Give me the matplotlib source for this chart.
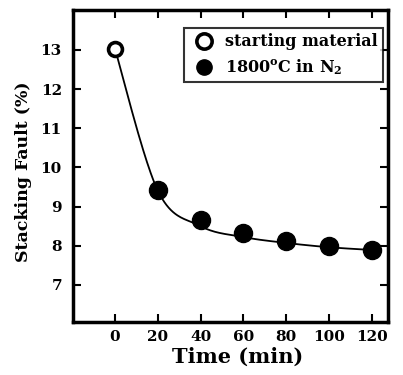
import matplotlib
matplotlib.use("Agg")
import matplotlib.pyplot as plt
import numpy as np

# data
start_time = [0]
start_fault = [13.03]
time_min = [20, 40, 60, 80, 100, 120]
fault_pct = [9.41, 8.66, 8.33, 8.12, 7.98, 7.89]

# guide curve drawn in the reference (passes a little below some points)
fit_time = [0, 20, 40, 60, 80, 100, 120]
fit_value = [13.03, 9.41, 8.50, 8.22, 8.07, 7.96, 7.89]

x_ticks = [0, 20, 40, 60, 80, 100, 120]
y_ticks = [7, 8, 9, 10, 11, 12, 13]

XLIM = (-19.6, 127.6)
YLIM = (6.05, 14.02)


def smooth_curve(t, y, n=40):
    # spreadsheet-style smoothed line: Catmull-Rom Bezier in axes pixel space
    px = (t - XLIM[0]) / (XLIM[1] - XLIM[0]) * 315
    py = (y - YLIM[0]) / (YLIM[1] - YLIM[0]) * 312
    P = np.column_stack([px, py])
    Pe = np.vstack([P[0], P, P[-1]])
    s = np.linspace(0, 1, n)[:, None]
    out = []
    for i in range(len(P) - 1):
        p0, p3 = Pe[i + 1], Pe[i + 2]
        c1 = p0 + (Pe[i + 2] - Pe[i]) / 6
        c2 = p3 - (Pe[i + 3] - Pe[i + 1]) / 6
        out.append((1 - s) ** 3 * p0 + 3 * (1 - s) ** 2 * s * c1
                   + 3 * (1 - s) * s ** 2 * c2 + s ** 3 * p3)
    out = np.vstack(out)
    tx = out[:, 0] / 315 * (XLIM[1] - XLIM[0]) + XLIM[0]
    ty = out[:, 1] / 312 * (YLIM[1] - YLIM[0]) + YLIM[0]
    return tx, ty


def main() -> None:
    plt.rcParams["font.family"] = ["DejaVu Serif"]
    plt.rcParams["font.weight"] = "bold"
    plt.rcParams["mathtext.fontset"] = "custom"
    plt.rcParams["mathtext.rm"] = "DejaVu Serif:bold"
    plt.rcParams["mathtext.bf"] = "DejaVu Serif:bold"

    tt, yy = smooth_curve(np.array(fit_time, float), np.array(fit_value, float))

    fig = plt.figure(figsize=(4.03, 3.75), dpi=100)
    ax = fig.add_axes([73 / 403, 53 / 375, 315 / 403, 312 / 375])

    ax.plot(tt, yy, color="black", lw=1.3, zorder=1)
    ax.plot(time_min, fault_pct, "o", ms=13, color="black", zorder=3,
            label=r"1800$^{\mathbf{o}}$C in N$_{\mathbf{2}}$")
    ax.plot(start_time, start_fault, "o", ms=10, mfc="white", mec="black",
            mew=2.6, zorder=3, label="starting material")

    ax.set_xlim(*XLIM)
    ax.set_ylim(*YLIM)
    ax.set_xticks(x_ticks)
    ax.set_yticks(y_ticks)
    ax.tick_params(direction="in", top=True, right=True, length=6, width=1.5,
                   labelsize=11, pad=8)
    ax.tick_params(axis="x", pad=6)
    for sp in ax.spines.values():
        sp.set_linewidth(2.5)

    ax.set_xlabel("Time (min)", fontsize=15, fontweight="bold")
    ax.set_ylabel("Stacking Fault (%)", fontsize=12.5, fontweight="bold")
    ax.xaxis.set_label_coords(0.522, -0.078)
    ax.yaxis.set_label_coords(-0.13, 0.48)

    handles, labels = ax.get_legend_handles_labels()
    leg = ax.legend(handles[::-1], labels[::-1], loc="upper right",
                    bbox_to_anchor=(310 / 315, 294 / 312), fontsize=11.5,
                    frameon=True, fancybox=False, handletextpad=0.45,
                    handlelength=1.8, borderpad=0.32, labelspacing=0.45,
                    borderaxespad=0.0)
    leg.get_frame().set_edgecolor("black")
    leg.get_frame().set_linewidth(1.5)
    for h in leg.legend_handles:
        h.set_markersize(11)

    fig.savefig("out.png", dpi=100)
    plt.close(fig)


if __name__ == "__main__":
    main()
